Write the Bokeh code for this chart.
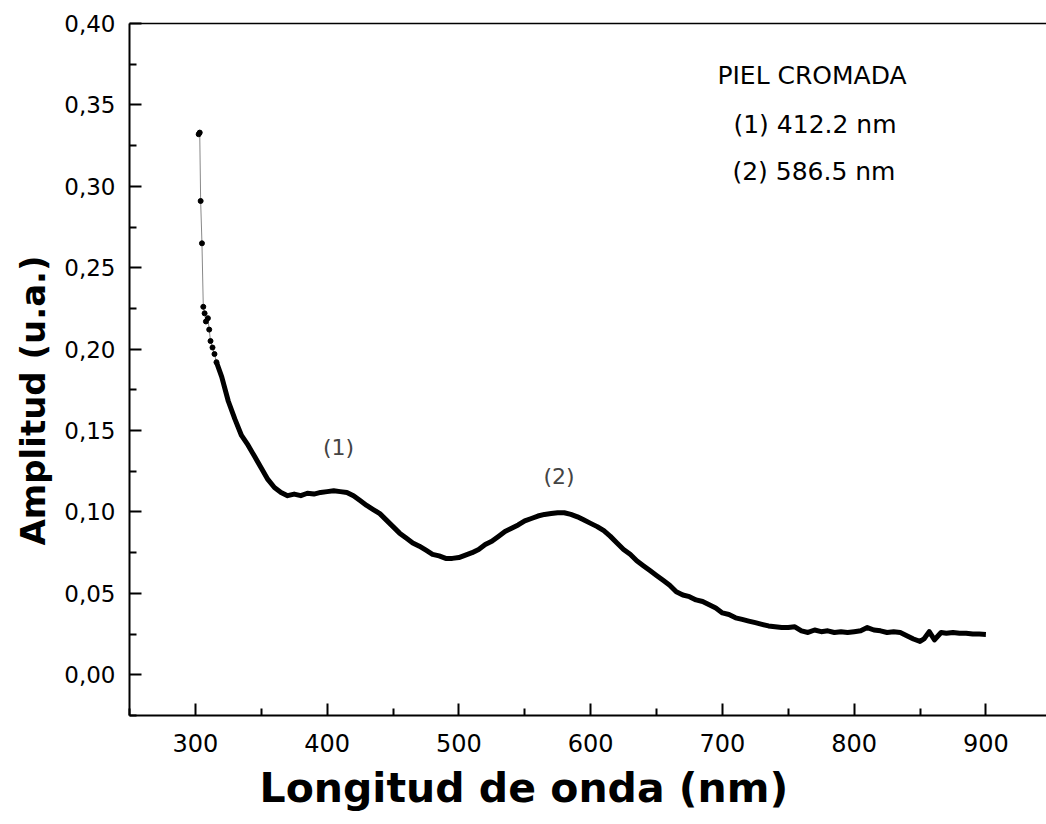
from bokeh.plotting import figure
from bokeh.models import Label, LinearAxis, FixedTicker, CustomJSTickFormatter, Range1d, Title
from bokeh.embed import file_html
from bokeh.resources import INLINE

# ---- data ----
# sparse noisy points at the start of the scan
start_x = [302.5, 303.3, 304.0, 305.0, 306.0, 307.0, 308.0, 309.5, 310.5, 311.5, 313.0, 314.5, 316.0]
start_y = [0.332, 0.333, 0.291, 0.265, 0.226, 0.222, 0.217, 0.219, 0.212, 0.205, 0.201, 0.197, 0.192]

wl = [316, 320, 325, 330, 335, 340, 345, 350, 355, 360, 365, 370, 375, 380, 385, 390, 395,
      400, 405, 410, 415, 420, 425, 430, 435, 440, 445, 450, 455, 460, 465, 470, 475, 480,
      485, 490, 495, 500, 505, 510, 515, 520, 525, 530, 535, 540, 545, 550, 555, 560, 565,
      570, 575, 580, 585, 590, 595, 600, 605, 610, 615, 620, 625, 630, 635, 640, 645, 650,
      655, 660, 665, 670, 675, 680, 685, 690, 695, 700, 705, 710, 715, 720, 725, 730, 735,
      740, 745, 750, 755, 760, 765, 770, 775, 780, 785, 790, 795, 800, 805, 810, 815, 820,
      825, 830, 835, 840, 845, 850, 853, 857, 861, 866, 870, 875, 880, 885, 890, 895, 900]
amp = [0.192, 0.183, 0.168, 0.157, 0.147, 0.141, 0.134, 0.127, 0.120, 0.115, 0.112, 0.110,
       0.111, 0.110, 0.1115, 0.111, 0.112, 0.1125, 0.113, 0.1125, 0.112, 0.110, 0.107, 0.104,
       0.1015, 0.099, 0.095, 0.091, 0.087, 0.084, 0.081, 0.079, 0.0765, 0.074, 0.073, 0.0715,
       0.0715, 0.072, 0.0735, 0.075, 0.077, 0.080, 0.082, 0.085, 0.088, 0.090, 0.092, 0.0945,
       0.096, 0.0975, 0.0985, 0.099, 0.0995, 0.0995, 0.0985, 0.097, 0.095, 0.093, 0.091,
       0.0885, 0.085, 0.081, 0.077, 0.074, 0.070, 0.067, 0.064, 0.061, 0.058, 0.055, 0.051,
       0.049, 0.048, 0.046, 0.045, 0.043, 0.041, 0.038, 0.037, 0.035, 0.034, 0.033, 0.032,
       0.031, 0.030, 0.0295, 0.029, 0.029, 0.0295, 0.027, 0.026, 0.0275, 0.0265, 0.027,
       0.026, 0.0265, 0.026, 0.0265, 0.027, 0.029, 0.0275, 0.027, 0.026, 0.0265, 0.026,
       0.024, 0.022, 0.0205, 0.022, 0.0265, 0.0215, 0.026, 0.0255, 0.026, 0.0255, 0.0255,
       0.025, 0.025, 0.0248]

x_ticks = [300, 400, 500, 600, 700, 800, 900]
x_minor = [250, 350, 450, 550, 650, 750, 850]
y_ticks = [0.00, 0.05, 0.10, 0.15, 0.20, 0.25, 0.30, 0.35, 0.40]
y_minor = [-0.025, 0.025, 0.075, 0.125, 0.175, 0.225, 0.275, 0.325, 0.375]

x_title = "Longitud de onda (nm)"
y_title = "Amplitud (u.a.)"
peak_names = ["(1)", "(2)"]
peak_label_x = [408.7, 576.0]
peak_label_y = [0.1395, 0.1216]
legend_lines = ["PIEL CROMADA", "(1) 412.2 nm", "(2) 586.5 nm"]

FONT = "DejaVu Sans"

p = figure(width=1046, height=824,
           x_range=Range1d(250, 946), y_range=Range1d(-0.025, 0.40),
           output_backend="svg", toolbar_location=None,
           min_border_left=129, min_border_right=0,
           min_border_top=23, min_border_bottom=109)
p.grid.visible = False
p.outline_line_color = None
p.background_fill_color = "white"
p.border_fill_color = "white"

# curve
p.line(start_x, start_y, line_color="#888888", line_width=1)
p.scatter(start_x, start_y, size=5, color="black")
p.line(wl, amp, line_color="black", line_width=5, line_join="round")

# axes
xa = p.xaxis[0]
xa.ticker = FixedTicker(ticks=x_ticks, minor_ticks=x_minor)
ya = p.yaxis[0]
ya.ticker = FixedTicker(ticks=y_ticks, minor_ticks=y_minor)
ya.formatter = CustomJSTickFormatter(code="return tick.toFixed(2).replace('.', ',');")
for ax in (xa, ya):
    ax.axis_line_width = 2
    ax.axis_line_color = "black"
    ax.major_tick_in = 12
    ax.major_tick_out = 0
    ax.minor_tick_in = 7
    ax.minor_tick_out = 0
    ax.major_tick_line_width = 2
    ax.minor_tick_line_width = 2
    ax.major_label_text_font = FONT
    ax.major_label_text_color = "black"
xa.major_label_text_font_size = "24px"
xa.major_label_standoff = 18
ya.major_label_text_font_size = "23px"
ya.major_label_standoff = 14

top = LinearAxis(ticker=FixedTicker(ticks=[]), axis_line_width=1.5,
                 major_tick_in=0, major_tick_out=0, minor_tick_in=0, minor_tick_out=0,
                 major_label_text_font_size="0px")
p.add_layout(top, "above")

# axis titles (as side titles so they can be offset like in the reference)
xt = Title(text=x_title, align="left", offset=130, text_font=FONT, text_font_style="bold",
           text_font_size="41px", text_color="black", standoff=14)
p.add_layout(xt, "below")
yt = Title(text=y_title, align="left", offset=170, text_font=FONT, text_font_style="bold",
           text_font_size="34px", text_color="black", standoff=18)
p.add_layout(yt, "left")

# peak labels
for name, lx, ly in zip(peak_names, peak_label_x, peak_label_y):
    p.add_layout(Label(x=lx, y=ly, text=name, text_align="center", text_baseline="middle",
                       text_font=FONT, text_font_size="22px", text_color="#444444"))

# legend text
leg_pos = [(696.2, 0.3682), (708.4, 0.3380), (707.6, 0.3091)]
for t, (lx, ly) in zip(legend_lines, leg_pos):
    p.add_layout(Label(x=lx, y=ly, text=t, text_align="left", text_baseline="alphabetic",
                       text_font=FONT, text_font_size="25px", text_color="black"))

open("out.html", "w").write(file_html(p, INLINE))
